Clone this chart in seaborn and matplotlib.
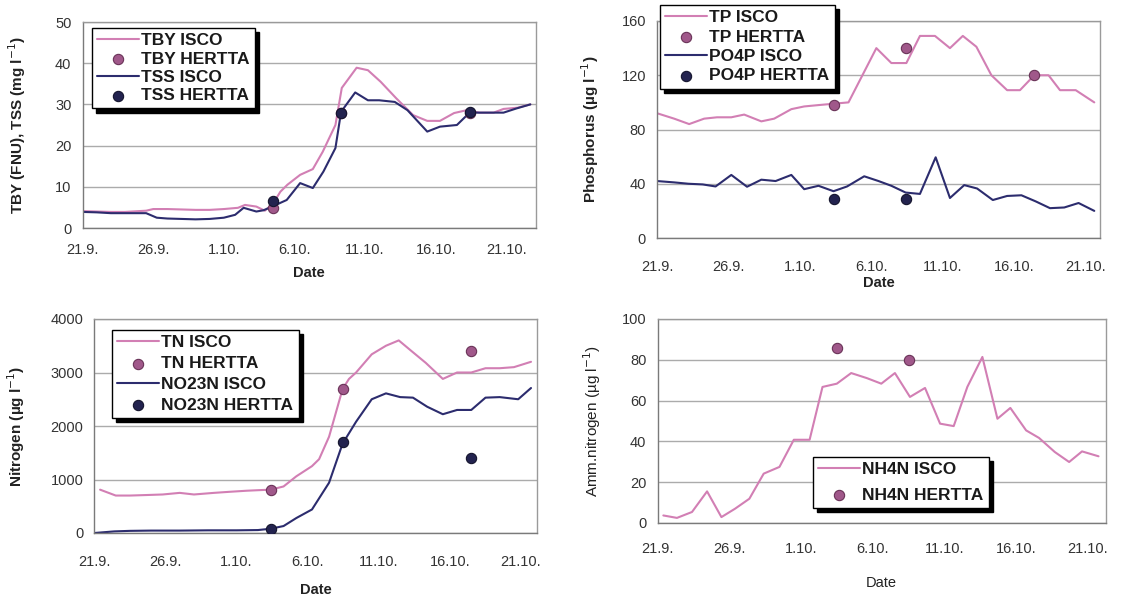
import numpy as np
import pandas as pd
import matplotlib
matplotlib.use("Agg")
import matplotlib.pyplot as plt
import seaborn as sns

sns.set_style("white")
plt.rcParams['font.family'] = ['Liberation Sans', 'DejaVu Sans']

# ---------------- data (x = days since 21.9.) ----------------
tick_pos = [0, 5, 10, 15, 20, 25, 30]
tick_labels = ["21.9.", "26.9.", "1.10.", "6.10.", "11.10.", "16.10.", "21.10."]

tby_x = [0, 1, 2, 3, 4, 4.5, 5, 6, 7, 8, 9, 10, 11, 11.5, 12.3, 12.9, 13.5, 14.0, 14.5, 15.4, 16.3,
         17.0, 17.9, 18.35, 19.4, 20.2, 21.1, 22.2, 23.4, 24.4, 25.3, 26.3, 27.2, 28.1, 29.1, 29.8, 30.8, 31.7]
tby_y = [4.1, 4.0, 3.9, 3.9, 4.1, 4.2, 4.6, 4.6, 4.5, 4.4, 4.4, 4.6, 4.9, 5.6, 5.2, 4.2, 6.0, 8.8, 10.5, 12.9, 14.3,
         18.5, 25.0, 34.0, 38.9, 38.3, 35.5, 31.5, 27.4, 26.0, 26.0, 27.9, 28.6, 28.0, 28.0, 28.9, 29.2, 30.0]
tss_x = [0, 1, 2, 3, 4, 4.5, 5.25, 6, 7, 8, 9, 10, 10.8, 11.4, 12.3, 12.8, 13.5, 14.0, 14.45, 15.4, 16.3,
         17.05, 17.9, 18.3, 19.3, 20.2, 21.0, 22.1, 23.0, 24.4, 25.3, 26.5, 27.4, 28.1, 29.0, 29.8, 30.7, 31.7]
tss_y = [3.9, 3.8, 3.6, 3.6, 3.6, 3.6, 2.5, 2.3, 2.2, 2.1, 2.2, 2.5, 3.2, 4.9, 4.0, 4.3, 5.3, 6.1, 6.8, 10.9, 9.7,
         13.7, 19.4, 28.2, 32.9, 31.0, 31.0, 30.6, 28.6, 23.4, 24.6, 25.0, 28.0, 28.0, 28.0, 28.0, 29.0, 30.0]
tby_h_x = [13.45, 18.3, 27.4]
tby_h_y = [4.8, 28.0, 28.0]
tss_h_x = [13.45, 18.3, 27.4]
tss_h_y = [6.5, 28.0, 28.2]

tp_x = [0, 1.2, 2.25, 3.3, 4.2, 5.2, 6.1, 7.3, 8.2, 9.4, 10.3, 11.3, 12.35, 13.4, 15.35, 16.4, 17.45, 18.4,
        19.45, 20.5, 21.4, 22.35, 23.4, 24.5, 25.4, 26.4, 27.4, 28.2, 29.3, 30.6]
tp_y = [92, 88, 84, 88, 89, 89, 91, 86, 88, 95, 97, 98, 99, 100, 140, 129, 129, 149,
        149, 140, 149, 141, 120, 109, 109, 120, 120, 109, 109, 100]
po4_x = [0, 1.2, 2.2, 3.2, 4.1, 5.2, 6.3, 7.3, 8.3, 9.4, 10.3, 11.3, 12.35, 13.3, 14.5, 15.5, 16.4, 17.4,
         18.4, 19.5, 20.5, 21.5, 22.4, 23.5, 24.5, 25.5, 26.5, 27.5, 28.5, 29.5, 30.6]
po4_y = [42, 41, 40, 39.5, 38, 46.5, 37.8, 43, 42, 46.5, 36, 38.5, 34.5, 38, 45.5, 42, 38.5, 33.5,
         32.5, 59.5, 29.5, 39, 36.5, 28, 31, 31.5, 27, 22, 22.5, 25.8, 20]
tp_h_x = [12.4, 17.45, 26.4]
tp_h_y = [98, 140, 120]
po4_h_x = [12.4, 17.4]
po4_h_y = [29, 29]

tn_x = [0.4, 1.5, 2.5, 3.7, 4.8, 6.0, 7.0, 8.4, 9.5, 10.7, 11.5, 12.4, 13.3, 14.2, 15.3, 15.8, 16.5, 17.45,
        17.9, 18.4, 19.5, 20.5, 21.4, 22.3, 23.3, 24.5, 25.5, 26.5, 27.5, 28.5, 29.5, 30.7]
tn_y = [810, 700, 700, 710, 720, 750, 720, 750, 770, 790, 800, 810, 870, 1060, 1250, 1380, 1800, 2690,
        2880, 3000, 3340, 3500, 3600, 3400, 3180, 2880, 3000, 3000, 3080, 3080, 3100, 3200]
no_x = [0, 1.4, 2.5, 4, 6, 8, 10, 11.5, 12.4, 13.3, 14.2, 15.3, 16.5, 17.45, 18.4, 19.5, 20.5, 21.5, 22.4,
        23.4, 24.5, 25.5, 26.5, 27.5, 28.5, 29.8, 30.7]
no_y = [0, 30, 40, 45, 45, 50, 50, 55, 80, 130, 280, 440, 940, 1670, 2080, 2500, 2610, 2540, 2530,
        2360, 2220, 2300, 2300, 2530, 2540, 2500, 2710]
tn_h_x = [12.4, 17.5, 26.5]
tn_h_y = [800, 2700, 3400]
no_h_x = [12.4, 17.5, 26.5]
no_h_y = [80, 1700, 1400]

nh_x = [0.4, 1.35, 2.4, 3.45, 4.45, 5.4, 6.4, 7.4, 8.5, 9.5, 10.6, 11.5, 12.5, 13.5, 14.6, 15.6, 16.55,
        17.6, 18.65, 19.7, 20.65, 21.6, 22.65, 23.7, 24.6, 25.7, 26.6, 27.7, 28.7, 29.6, 30.75]
nh_y = [3.7, 2.5, 5.4, 15.5, 2.9, 7, 11.9, 24.2, 27.5, 40.8, 40.8, 66.7, 68.3, 73.5, 71, 68.3, 73.5,
        61.8, 66.2, 48.7, 47.5, 66.7, 81.4, 51.1, 56.4, 45.4, 41.7, 34.8, 29.9, 35.1, 32.7]
nh_h_x = [12.5, 17.55]
nh_h_y = [86, 80]

# ---------------- styling ----------------
W, H = 1121, 601
PINK = "#d27fb4"
NAVY = "#2c2c6e"
PINK_M = "#a0588a"
PINK_E = "#6a3358"
NAVY_M = "#23234f"
NAVY_E = "#15152e"
GRID = "#ababab"

fig = plt.figure(figsize=(W / 100, H / 100), dpi=100)
fig.patch.set_facecolor("white")


def make_ax(l, r, t, b):
    return fig.add_axes([l / W, 1 - b / H, (r - l) / W, (b - t) / H])


def style_ax(ax, xmax, ymax, ystep, ylabel, lab_x_px, date_top_px, tick_pad, bold=True):
    ax.set_xlim(0, xmax)
    ax.set_ylim(0, ymax)
    ax.set_xticks(tick_pos)
    ax.set_xticklabels(tick_labels)
    ax.set_yticks(np.arange(0, ymax + ystep / 2, ystep))
    ax.yaxis.grid(True, color=GRID, lw=1.0)
    ax.xaxis.grid(False)
    ax.set_axisbelow(True)
    for s in ax.spines.values():
        s.set_color("#9a9a9a")
        s.set_linewidth(1.0)
    ax.spines["left"].set_color("#7a7a7a")
    ax.spines["bottom"].set_color("#7a7a7a")
    ax.tick_params(axis="both", which="both", direction="out", length=4, width=1,
                   color="#7a7a7a", labelsize=10.5, labelcolor="#333333")
    ax.tick_params(axis="x", pad=tick_pad)
    ax.tick_params(axis="y", pad=4)
    w = "bold" if bold else "normal"
    ax.set_ylabel(ylabel, fontsize=11, fontweight=w, color="#222222")
    ax.set_xlabel("Date", fontsize=10.5, fontweight=w, color="#222222")
    bb = ax.get_position()
    lpx = bb.x0 * W
    wpx = bb.width * W
    hpx = bb.height * H
    bpx = (1 - bb.y0) * H
    ax.yaxis.set_label_coords((lab_x_px - lpx) / wpx, 0.5)
    ax.xaxis.set_label_coords(0.5, -(date_top_px - bpx) / hpx)


def add_legend(ax, order, x_px, y_px, spacing):
    h, l = ax.get_legend_handles_labels()
    d = dict(zip(l, h))
    leg = ax.legend([d[k] for k in order], order, loc="upper left",
                    bbox_to_anchor=(x_px / W, 1 - y_px / H), bbox_transform=fig.transFigure,
                    frameon=True, fancybox=False, framealpha=1, edgecolor="black",
                    shadow={"ox": 3, "oy": -3, "color": "black", "alpha": 1},
                    prop={"weight": "bold", "size": 12.5}, handlelength=2.4, handletextpad=0.15,
                    labelspacing=spacing, borderpad=0.3, borderaxespad=0, markerscale=1.0)
    leg.get_frame().set_linewidth(1.0)
    for t in leg.get_texts():
        t.set_color("#1a1a1a")
    return leg


def lines(ax, x, y, color, label):
    sns.lineplot(x=x, y=y, ax=ax, color=color, lw=1.5, label=label, estimator=None, sort=False)


def points(ax, x, y, face, edge, label):
    sns.scatterplot(x=x, y=y, ax=ax, color=face, edgecolor=edge, linewidth=0.8, s=55, label=label, zorder=5)


# Panel 1
ax1 = make_ax(82.6, 536, 22, 228)
lines(ax1, tby_x, tby_y, PINK, "TBY ISCO")
lines(ax1, tss_x, tss_y, NAVY, "TSS ISCO")
points(ax1, tby_h_x, tby_h_y, PINK_M, PINK_E, "TBY HERTTA")
points(ax1, tss_h_x, tss_h_y, NAVY_M, NAVY_E, "TSS HERTTA")
style_ax(ax1, 32.1, 50, 10, r"TBY (FNU), TSS (mg l$^{-1}$)", 28, 266, 7)
add_legend(ax1, ["TBY ISCO", "TBY HERTTA", "TSS ISCO", "TSS HERTTA"], 92, 28, 0.18)

# Panel 2
ax2 = make_ax(657, 1100, 21, 238)
lines(ax2, tp_x, tp_y, PINK, "TP ISCO")
lines(ax2, po4_x, po4_y, NAVY, "PO4P ISCO")
points(ax2, tp_h_x, tp_h_y, PINK_M, PINK_E, "TP HERTTA")
points(ax2, po4_h_x, po4_h_y, NAVY_M, NAVY_E, "PO4P HERTTA")
style_ax(ax2, 31.0, 160, 40, r"Phosphorus (µg l$^{-1}$)", 601, 276, 12)
add_legend(ax2, ["TP ISCO", "TP HERTTA", "PO4P ISCO", "PO4P HERTTA"], 660, 5, 0.24)

# Panel 3
ax3 = make_ax(94.4, 536.7, 319, 533)
lines(ax3, tn_x, tn_y, PINK, "TN ISCO")
lines(ax3, no_x, no_y, NAVY, "NO23N ISCO")
points(ax3, tn_h_x, tn_h_y, PINK_M, PINK_E, "TN HERTTA")
points(ax3, no_h_x, no_h_y, NAVY_M, NAVY_E, "NO23N HERTTA")
style_ax(ax3, 31.1, 4000, 1000, r"Nitrogen (µg l$^{-1}$)", 27, 583, 12)
add_legend(ax3, ["TN ISCO", "TN HERTTA", "NO23N ISCO", "NO23N HERTTA"], 112, 330, 0.33)

# Panel 4
ax4 = make_ax(657.6, 1105.7, 319, 523)
lines(ax4, nh_x, nh_y, PINK, "NH4N ISCO")
points(ax4, nh_h_x, nh_h_y, PINK_M, PINK_E, "NH4N HERTTA")
style_ax(ax4, 31.25, 100, 20, r"Amm.nitrogen (µg l$^{-1}$)", 603, 576, 10, bold=False)
add_legend(ax4, ["NH4N ISCO", "NH4N HERTTA"], 813, 457, 0.6)

fig.savefig("out.png", dpi=100, facecolor="white")
